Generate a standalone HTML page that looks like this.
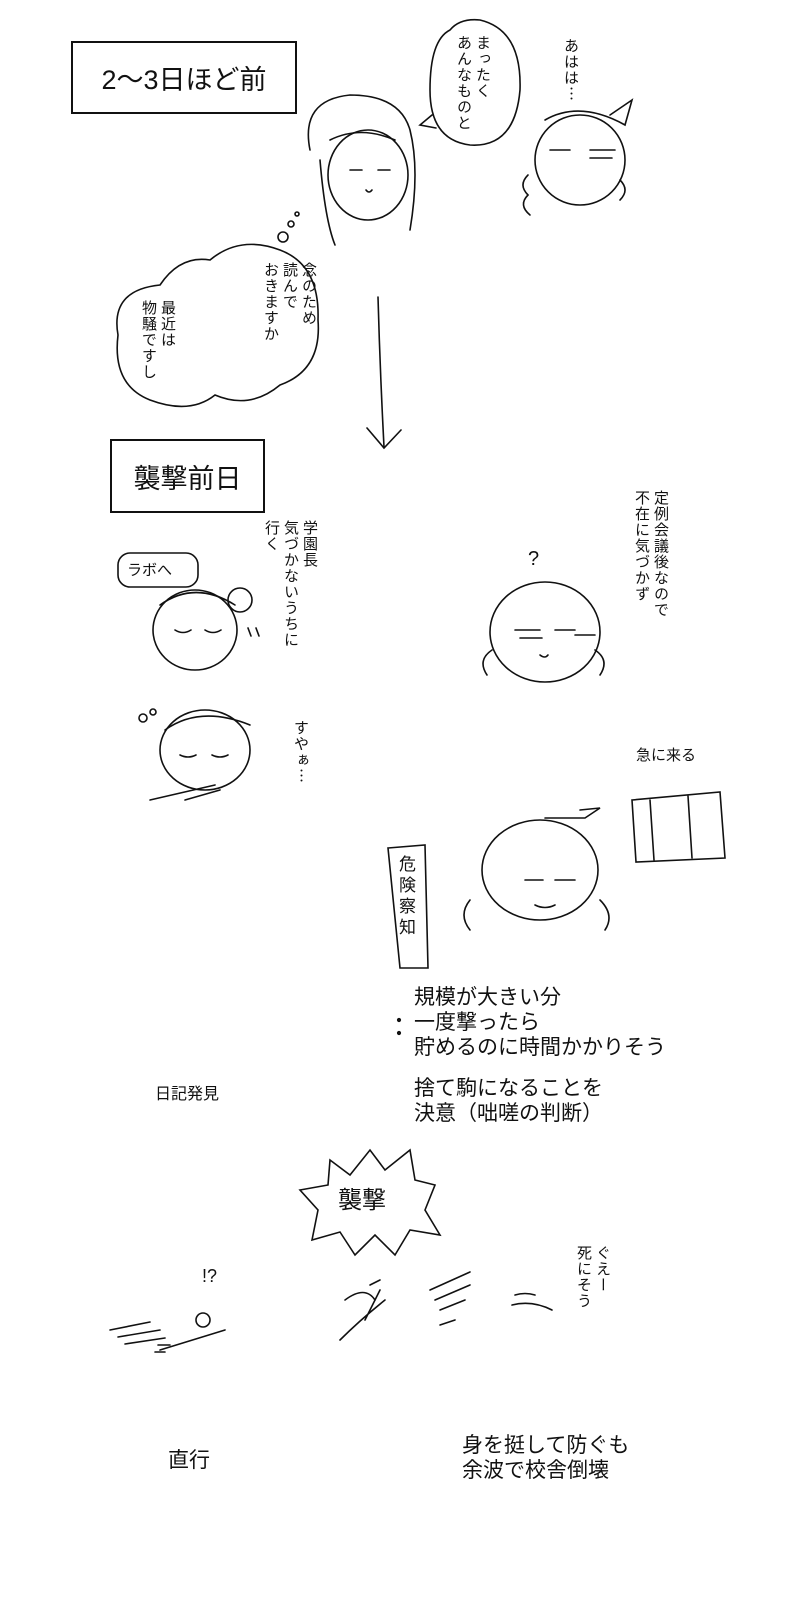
<!DOCTYPE html>
<html><head><meta charset="utf-8"><style>
html,body{margin:0;padding:0;background:#fff}
body{width:800px;height:1600px;position:relative;overflow:hidden;font-family:"Liberation Sans","Noto Sans CJK JP",sans-serif;color:#111}
.box{position:absolute;border:2px solid #111;display:flex;align-items:center;justify-content:center;font-size:27px}
.t{position:absolute;font-size:21px;line-height:25px;white-space:nowrap}
.v{position:absolute;writing-mode:vertical-rl;font-size:15px;line-height:19px;font-family:"Noto Sans CJK JP",sans-serif;letter-spacing:1px}
svg{position:absolute;left:0;top:0}
</style></head><body>
<svg width="800" height="1600" fill="none" stroke="#111" stroke-width="1.6" stroke-linecap="round">
<path d="M378 297 Q380 370 384 447"/><path d="M367 428 L384 448 L401 430"/>
<path d="M450 30 Q430 40 430 90 Q430 140 470 145 Q515 148 520 90 Q522 30 480 20 Q460 18 450 30Z"/>
<path d="M432 115 L420 125 L436 128"/>
<path d="M210 260 Q240 235 280 250 Q320 265 318 320 Q322 370 280 385 Q250 410 215 395 Q190 415 150 400 Q112 385 118 335 Q110 290 160 285 Q180 255 210 260Z"/>
<circle cx="283" cy="237" r="5"/><circle cx="291" cy="224" r="3"/><circle cx="297" cy="214" r="2"/>
<path d="M310 150 Q300 100 350 95 Q400 95 410 130 Q420 170 410 230"/>
<path d="M330 140 Q360 125 395 140"/><path d="M320 160 Q325 220 335 245"/>
<ellipse cx="368" cy="175" rx="40" ry="45"/>
<path d="M350 170 h12 M378 170 h12"/><path d="M366 190 q3 4 6 0"/>
<ellipse cx="580" cy="160" rx="45" ry="45"/>
<path d="M545 120 Q580 100 625 125 L632 100 L610 115"/><path d="M590 150 h25 M590 158 h22 M550 150 h20"/>
<path d="M528 175 q-10 10 0 20 q-10 10 2 20"/><path d="M620 180 q10 10 0 20"/>
<rect x="118" y="553" width="80" height="34" rx="12"/>
<ellipse cx="195" cy="630" rx="42" ry="40"/><path d="M160 605 Q195 580 235 605"/>
<path d="M175 630 q8 5 16 0 M205 630 q8 5 16 0"/><circle cx="240" cy="600" r="12"/>
<path d="M248 628 l3 8 M256 628 l3 8"/>
<ellipse cx="205" cy="750" rx="45" ry="40"/><path d="M165 730 Q200 705 250 725"/>
<path d="M180 755 q8 4 16 0 M212 755 q8 4 16 0"/><path d="M150 800 L215 785"/><path d="M185 800 L220 790"/>
<circle cx="143" cy="718" r="4"/><circle cx="153" cy="712" r="3"/>
<ellipse cx="545" cy="632" rx="55" ry="50"/><path d="M515 630 h25 M520 638 h22 M555 630 h20 M575 635 h20"/>
<path d="M540 655 q5 4 8 0"/><path d="M492 650 q-15 10 -5 25 M595 650 q15 10 5 25"/>
<text x="528" y="565" font-size="20" stroke="none" fill="#111">?</text>
<path d="M632 800 L720 792 L725 858 L636 862Z"/><path d="M650 800 L654 860 M688 796 L692 858"/>
<ellipse cx="540" cy="870" rx="58" ry="50"/><path d="M545 818 L585 818 L600 808 L580 810"/>
<path d="M525 880 h18 M555 880 h20"/><path d="M470 900 q-12 15 0 30 M600 900 q15 15 5 30"/>
<path d="M535 905 q10 5 20 0"/>
<path d="M388 848 L425 845 L428 968 L400 968Z"/>
<circle cx="399" cy="1020" r="1.3" fill="#111"/><circle cx="399" cy="1033" r="1.3" fill="#111"/>
<path d="M330 1160 L350 1175 L370 1150 L385 1170 L410 1150 L415 1180 L435 1185 L425 1210 L440 1235 L410 1230 L395 1255 L375 1235 L355 1255 L340 1232 L312 1240 L318 1210 L300 1190 L328 1185Z"/>
<path d="M110 1330 L150 1322 M118 1337 L160 1330 M125 1344 L165 1338"/>
<path d="M160 1350 L225 1330"/><circle cx="203" cy="1320" r="7"/><path d="M158 1345 h12 M155 1352 h10"/>
<text x="202" y="1282" font-size="18" stroke="none" fill="#111">!?</text>
<path d="M340 1340 Q360 1320 385 1300 M365 1320 L380 1290"/><path d="M345 1300 q20 -15 30 0"/><path d="M370 1285 l10 -5"/>
<path d="M430 1290 L470 1272 M435 1300 L470 1285 M440 1310 L465 1300 M440 1325 L455 1320"/>
<path d="M512 1305 q20 -5 40 5 M515 1295 q10 -3 20 0"/>
</svg>
<div class="box" style="left:71px;top:41px;width:222px;height:69px">2〜3日ほど前</div>
<div class="box" style="left:110px;top:439px;width:151px;height:70px">襲撃前日</div>
<div class="v" style="left:455px;top:35px;height:100px">まったく<br>あんなものと</div>
<div class="v" style="left:562px;top:38px;height:80px">あはは…</div>
<div class="v" style="left:262px;top:262px;height:120px">念のため<br>読んで<br>おきますか</div>
<div class="v" style="left:140px;top:300px;height:100px">最近は<br>物騒ですし</div>
<div class="v" style="left:263px;top:520px;height:140px">学園長<br>気づかないうちに<br>行く</div>
<div class="v" style="left:633px;top:490px;height:160px">定例会議後なので<br>不在に気づかず</div>
<div class="t" style="left:127px;top:558px;font-size:15px">ラボへ</div>
<div class="v" style="left:292px;top:720px;height:90px">すやぁ…</div>
<div class="t" style="left:636px;top:743px;font-size:15px">急に来る</div>
<div class="v" style="left:398px;top:855px;height:110px;font-size:17px;letter-spacing:4px">危険察知</div>
<div class="t" style="left:414px;top:985px">規模が大きい分</div>
<div class="t" style="left:414px;top:1010px">一度撃ったら</div>
<div class="t" style="left:414px;top:1035px">貯めるのに時間かかりそう</div>
<div class="t" style="left:414px;top:1076px">捨て駒になることを</div>
<div class="t" style="left:414px;top:1101px">決意（咄嗟の判断）</div>
<div class="t" style="left:155px;top:1082px;font-size:16px">日記発見</div>
<div class="t" style="left:338px;top:1188px;font-size:24px">襲撃</div>
<div class="v" style="left:575px;top:1245px;height:80px">ぐえー<br>死にそう</div>
<div class="t" style="left:168px;top:1448px">直行</div>
<div class="t" style="left:462px;top:1433px">身を挺して防ぐも</div>
<div class="t" style="left:462px;top:1458px">余波で校舎倒壊</div>
</body></html>
